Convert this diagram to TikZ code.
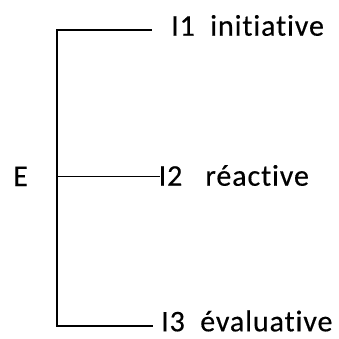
\documentclass[tikz,border=0pt]{standalone}
\usepackage{fontspec}
\setmainfont[Ligatures=NoCommon,LetterSpace=3,FakeBold=0.4]{Carlito}
\begin{document}
\begin{tikzpicture}[x=1pt,y=1pt,
  lbl/.style={anchor=base west,inner sep=0pt,font=\fontsize{30}{34}\selectfont},
  branch/.style={line width=1.8pt,black}]
\useasboundingbox (0,0) rectangle (339,-338);
% root and leaves
\node[lbl] (e) at (13,-186) {E};
\node[lbl] (t1) at (171,-35.7) {I1\ \ initiative};
\node[lbl] (t2) at (158.5,-185.7) {I2\ \ \ réactive};
\node[lbl] (t3) at (161,-331.3) {I3\ \ évaluative};
% bracket joints
\coordinate (c1) at (57,-30);
\coordinate (c2) at (57,-176.7);
\coordinate (c3) at (57,-326);
\draw[branch,line cap=rect] (c1) -- (c3);
\draw[branch,shorten >=19pt] (c1) -- (c1 -| t1.base west);
\draw[branch,line width=1.4pt,shorten >=-1pt] (c2) -- (c2 -| t2.base west);
\draw[branch,shorten >=8pt] (c3) -- (c3 -| t3.base west);
\end{tikzpicture}
\end{document}
